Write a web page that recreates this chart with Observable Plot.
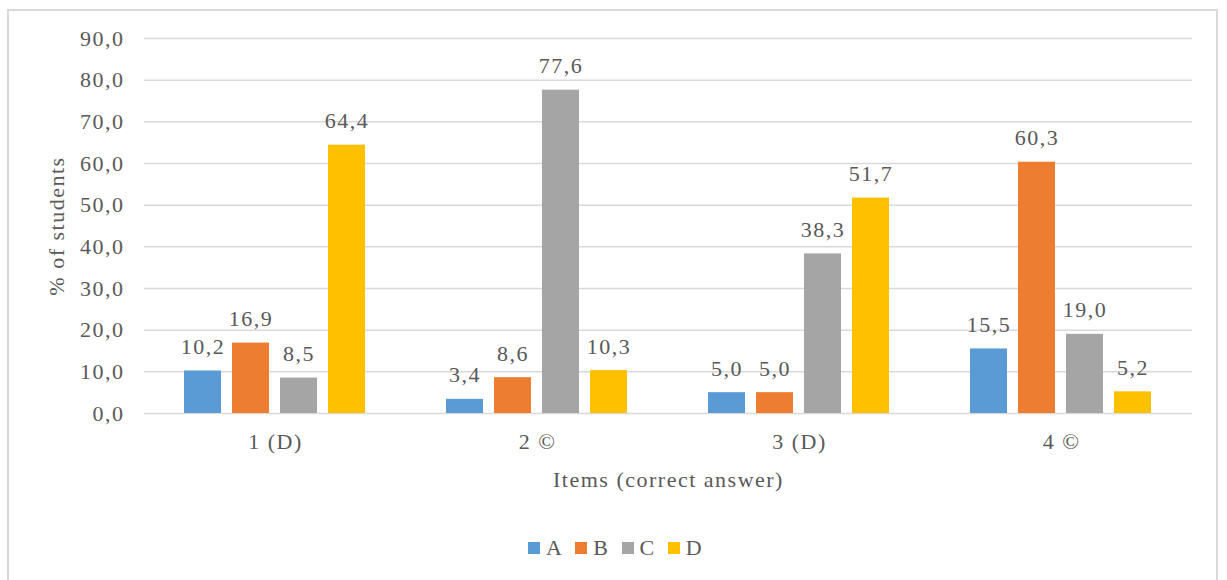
<!DOCTYPE html>
<html>
<head>
<meta charset="utf-8">
<script src="https://cdn.jsdelivr.net/npm/d3@7"></script>
<script src="https://cdn.jsdelivr.net/npm/@observablehq/plot@0.6"></script>
<style>
  html, body { margin: 0; padding: 0; background: #fff; }
  body { width: 1227px; height: 580px; position: relative; overflow: hidden; font-family: "Liberation Serif", serif; }
  #frame { position: absolute; left: 7px; top: 9px; width: 1211px; height: 600px; border: 2px solid #d9d9d9; box-sizing: border-box; }
  #chart { position: absolute; left: 0; top: 0; }
  #chart svg, #chart svg text, #chart svg g { font-family: "Liberation Serif", serif !important; }
  #legend { position: absolute; top: 535px; left: 0; width: 1227px; display: flex; justify-content: center; align-items: center; font-size: 22px; color: #595959; letter-spacing: 1.5px; padding-left: 4px; box-sizing: border-box; }
  #legend .item { display: flex; align-items: center; margin: 0 6px; }
  #legend .sw { width: 12px; height: 12px; margin-right: 6px; }
</style>
</head>
<body>
<div id="frame"></div>
<div id="chart"></div>
<div id="legend"></div>
<script>
const items = ["1 (D)", "2 ©", "3 (D)", "4 ©"];
const options = ["A", "B", "C", "D"];
const colors = ["#5B9BD5", "#ED7D31", "#A5A5A5", "#FFC000"];
const valuesA = [10.2, 3.4, 5.0, 15.5];
const valuesB = [16.9, 8.6, 5.0, 60.3];
const valuesC = [8.5, 77.6, 38.3, 19.0];
const valuesD = [64.4, 10.3, 51.7, 5.2];
const yTicks = [0, 10, 20, 30, 40, 50, 60, 70, 80, 90];

const series = {A: valuesA, B: valuesB, C: valuesC, D: valuesD};
const data = [];
items.forEach((item, i) => options.forEach(opt => data.push({item, opt, value: series[opt][i]})));

const fmt = d => d.toFixed(1).replace(".", ",");
const textColor = "#595959";
const FS = 22;

const chart = Plot.plot({
  width: 1227,
  height: 580,
  marginLeft: 142,
  marginRight: 34,
  marginTop: 38,
  marginBottom: 167,
  style: {fontFamily: "'Liberation Serif', serif", fontSize: "22px", color: textColor, background: "transparent", letterSpacing: "1.5px"},
  fx: {domain: items, padding: 0},
  x: {domain: options, paddingInner: 0.22, paddingOuter: 0.83, axis: null},
  y: {domain: [0, 90], ticks: yTicks},
  color: {domain: options, range: colors},
  marks: [
    Plot.gridY(yTicks, {stroke: "#d9d9d9", strokeOpacity: 1, strokeWidth: 1.5}),
    Plot.axisY(yTicks, {tickSize: 0, tickPadding: 20, tickFormat: fmt, fontSize: FS, label: "% of students", labelArrow: "none", labelAnchor: "center", labelOffset: 96, fill: textColor}),
    Plot.axisFx({anchor: "bottom", tickSize: 0, tickPadding: 20, fontSize: FS, label: "Items (correct answer)", labelArrow: "none", labelAnchor: "center", labelOffset: 73, fill: textColor}),
    Plot.barY(data, {fx: "item", x: "opt", y: "value", fill: "opt"}),
    Plot.text(data, {fx: "item", x: "opt", y: "value", text: d => fmt(d.value), fontSize: FS, lineAnchor: "bottom", dy: -17, fill: textColor})
  ]
});
document.getElementById("chart").appendChild(chart);

const legend = document.getElementById("legend");
options.forEach((opt, i) => {
  const it = document.createElement("div");
  it.className = "item";
  const sw = document.createElement("div");
  sw.className = "sw";
  sw.style.background = colors[i];
  const lb = document.createElement("span");
  lb.textContent = opt;
  it.appendChild(sw); it.appendChild(lb);
  legend.appendChild(it);
});
</script>
</body>
</html>
